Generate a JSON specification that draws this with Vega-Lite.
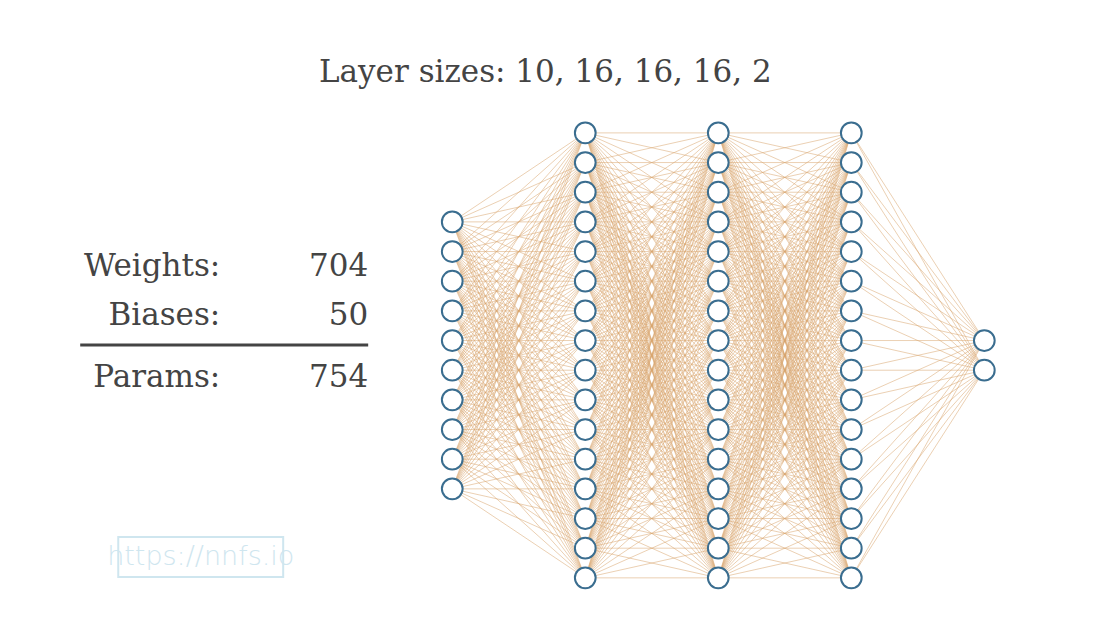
{
"$schema":"https://vega.github.io/schema/vega-lite/v6.json",
"width":1116,"height":636,
"autosize":{"type":"fit","contains":"padding"},
"padding":0,
"background":"white",
"config":{"view":{"stroke":null}},
"datasets":{
"edges":[
{"x":0,"y":-4.5,"xt":1,"t":[-7.5,-6.5,-5.5,-4.5,-3.5,-2.5,-1.5,-0.5,0.5,1.5,2.5,3.5,4.5,5.5,6.5,7.5]},
{"x":0,"y":-3.5,"xt":1,"t":[-7.5,-6.5,-5.5,-4.5,-3.5,-2.5,-1.5,-0.5,0.5,1.5,2.5,3.5,4.5,5.5,6.5,7.5]},
{"x":0,"y":-2.5,"xt":1,"t":[-7.5,-6.5,-5.5,-4.5,-3.5,-2.5,-1.5,-0.5,0.5,1.5,2.5,3.5,4.5,5.5,6.5,7.5]},
{"x":0,"y":-1.5,"xt":1,"t":[-7.5,-6.5,-5.5,-4.5,-3.5,-2.5,-1.5,-0.5,0.5,1.5,2.5,3.5,4.5,5.5,6.5,7.5]},
{"x":0,"y":-0.5,"xt":1,"t":[-7.5,-6.5,-5.5,-4.5,-3.5,-2.5,-1.5,-0.5,0.5,1.5,2.5,3.5,4.5,5.5,6.5,7.5]},
{"x":0,"y":0.5,"xt":1,"t":[-7.5,-6.5,-5.5,-4.5,-3.5,-2.5,-1.5,-0.5,0.5,1.5,2.5,3.5,4.5,5.5,6.5,7.5]},
{"x":0,"y":1.5,"xt":1,"t":[-7.5,-6.5,-5.5,-4.5,-3.5,-2.5,-1.5,-0.5,0.5,1.5,2.5,3.5,4.5,5.5,6.5,7.5]},
{"x":0,"y":2.5,"xt":1,"t":[-7.5,-6.5,-5.5,-4.5,-3.5,-2.5,-1.5,-0.5,0.5,1.5,2.5,3.5,4.5,5.5,6.5,7.5]},
{"x":0,"y":3.5,"xt":1,"t":[-7.5,-6.5,-5.5,-4.5,-3.5,-2.5,-1.5,-0.5,0.5,1.5,2.5,3.5,4.5,5.5,6.5,7.5]},
{"x":0,"y":4.5,"xt":1,"t":[-7.5,-6.5,-5.5,-4.5,-3.5,-2.5,-1.5,-0.5,0.5,1.5,2.5,3.5,4.5,5.5,6.5,7.5]},
{"x":1,"y":-7.5,"xt":2,"t":[-7.5,-6.5,-5.5,-4.5,-3.5,-2.5,-1.5,-0.5,0.5,1.5,2.5,3.5,4.5,5.5,6.5,7.5]},
{"x":1,"y":-6.5,"xt":2,"t":[-7.5,-6.5,-5.5,-4.5,-3.5,-2.5,-1.5,-0.5,0.5,1.5,2.5,3.5,4.5,5.5,6.5,7.5]},
{"x":1,"y":-5.5,"xt":2,"t":[-7.5,-6.5,-5.5,-4.5,-3.5,-2.5,-1.5,-0.5,0.5,1.5,2.5,3.5,4.5,5.5,6.5,7.5]},
{"x":1,"y":-4.5,"xt":2,"t":[-7.5,-6.5,-5.5,-4.5,-3.5,-2.5,-1.5,-0.5,0.5,1.5,2.5,3.5,4.5,5.5,6.5,7.5]},
{"x":1,"y":-3.5,"xt":2,"t":[-7.5,-6.5,-5.5,-4.5,-3.5,-2.5,-1.5,-0.5,0.5,1.5,2.5,3.5,4.5,5.5,6.5,7.5]},
{"x":1,"y":-2.5,"xt":2,"t":[-7.5,-6.5,-5.5,-4.5,-3.5,-2.5,-1.5,-0.5,0.5,1.5,2.5,3.5,4.5,5.5,6.5,7.5]},
{"x":1,"y":-1.5,"xt":2,"t":[-7.5,-6.5,-5.5,-4.5,-3.5,-2.5,-1.5,-0.5,0.5,1.5,2.5,3.5,4.5,5.5,6.5,7.5]},
{"x":1,"y":-0.5,"xt":2,"t":[-7.5,-6.5,-5.5,-4.5,-3.5,-2.5,-1.5,-0.5,0.5,1.5,2.5,3.5,4.5,5.5,6.5,7.5]},
{"x":1,"y":0.5,"xt":2,"t":[-7.5,-6.5,-5.5,-4.5,-3.5,-2.5,-1.5,-0.5,0.5,1.5,2.5,3.5,4.5,5.5,6.5,7.5]},
{"x":1,"y":1.5,"xt":2,"t":[-7.5,-6.5,-5.5,-4.5,-3.5,-2.5,-1.5,-0.5,0.5,1.5,2.5,3.5,4.5,5.5,6.5,7.5]},
{"x":1,"y":2.5,"xt":2,"t":[-7.5,-6.5,-5.5,-4.5,-3.5,-2.5,-1.5,-0.5,0.5,1.5,2.5,3.5,4.5,5.5,6.5,7.5]},
{"x":1,"y":3.5,"xt":2,"t":[-7.5,-6.5,-5.5,-4.5,-3.5,-2.5,-1.5,-0.5,0.5,1.5,2.5,3.5,4.5,5.5,6.5,7.5]},
{"x":1,"y":4.5,"xt":2,"t":[-7.5,-6.5,-5.5,-4.5,-3.5,-2.5,-1.5,-0.5,0.5,1.5,2.5,3.5,4.5,5.5,6.5,7.5]},
{"x":1,"y":5.5,"xt":2,"t":[-7.5,-6.5,-5.5,-4.5,-3.5,-2.5,-1.5,-0.5,0.5,1.5,2.5,3.5,4.5,5.5,6.5,7.5]},
{"x":1,"y":6.5,"xt":2,"t":[-7.5,-6.5,-5.5,-4.5,-3.5,-2.5,-1.5,-0.5,0.5,1.5,2.5,3.5,4.5,5.5,6.5,7.5]},
{"x":1,"y":7.5,"xt":2,"t":[-7.5,-6.5,-5.5,-4.5,-3.5,-2.5,-1.5,-0.5,0.5,1.5,2.5,3.5,4.5,5.5,6.5,7.5]},
{"x":2,"y":-7.5,"xt":3,"t":[-7.5,-6.5,-5.5,-4.5,-3.5,-2.5,-1.5,-0.5,0.5,1.5,2.5,3.5,4.5,5.5,6.5,7.5]},
{"x":2,"y":-6.5,"xt":3,"t":[-7.5,-6.5,-5.5,-4.5,-3.5,-2.5,-1.5,-0.5,0.5,1.5,2.5,3.5,4.5,5.5,6.5,7.5]},
{"x":2,"y":-5.5,"xt":3,"t":[-7.5,-6.5,-5.5,-4.5,-3.5,-2.5,-1.5,-0.5,0.5,1.5,2.5,3.5,4.5,5.5,6.5,7.5]},
{"x":2,"y":-4.5,"xt":3,"t":[-7.5,-6.5,-5.5,-4.5,-3.5,-2.5,-1.5,-0.5,0.5,1.5,2.5,3.5,4.5,5.5,6.5,7.5]},
{"x":2,"y":-3.5,"xt":3,"t":[-7.5,-6.5,-5.5,-4.5,-3.5,-2.5,-1.5,-0.5,0.5,1.5,2.5,3.5,4.5,5.5,6.5,7.5]},
{"x":2,"y":-2.5,"xt":3,"t":[-7.5,-6.5,-5.5,-4.5,-3.5,-2.5,-1.5,-0.5,0.5,1.5,2.5,3.5,4.5,5.5,6.5,7.5]},
{"x":2,"y":-1.5,"xt":3,"t":[-7.5,-6.5,-5.5,-4.5,-3.5,-2.5,-1.5,-0.5,0.5,1.5,2.5,3.5,4.5,5.5,6.5,7.5]},
{"x":2,"y":-0.5,"xt":3,"t":[-7.5,-6.5,-5.5,-4.5,-3.5,-2.5,-1.5,-0.5,0.5,1.5,2.5,3.5,4.5,5.5,6.5,7.5]},
{"x":2,"y":0.5,"xt":3,"t":[-7.5,-6.5,-5.5,-4.5,-3.5,-2.5,-1.5,-0.5,0.5,1.5,2.5,3.5,4.5,5.5,6.5,7.5]},
{"x":2,"y":1.5,"xt":3,"t":[-7.5,-6.5,-5.5,-4.5,-3.5,-2.5,-1.5,-0.5,0.5,1.5,2.5,3.5,4.5,5.5,6.5,7.5]},
{"x":2,"y":2.5,"xt":3,"t":[-7.5,-6.5,-5.5,-4.5,-3.5,-2.5,-1.5,-0.5,0.5,1.5,2.5,3.5,4.5,5.5,6.5,7.5]},
{"x":2,"y":3.5,"xt":3,"t":[-7.5,-6.5,-5.5,-4.5,-3.5,-2.5,-1.5,-0.5,0.5,1.5,2.5,3.5,4.5,5.5,6.5,7.5]},
{"x":2,"y":4.5,"xt":3,"t":[-7.5,-6.5,-5.5,-4.5,-3.5,-2.5,-1.5,-0.5,0.5,1.5,2.5,3.5,4.5,5.5,6.5,7.5]},
{"x":2,"y":5.5,"xt":3,"t":[-7.5,-6.5,-5.5,-4.5,-3.5,-2.5,-1.5,-0.5,0.5,1.5,2.5,3.5,4.5,5.5,6.5,7.5]},
{"x":2,"y":6.5,"xt":3,"t":[-7.5,-6.5,-5.5,-4.5,-3.5,-2.5,-1.5,-0.5,0.5,1.5,2.5,3.5,4.5,5.5,6.5,7.5]},
{"x":2,"y":7.5,"xt":3,"t":[-7.5,-6.5,-5.5,-4.5,-3.5,-2.5,-1.5,-0.5,0.5,1.5,2.5,3.5,4.5,5.5,6.5,7.5]},
{"x":3,"y":-7.5,"xt":4,"t":[-0.5,0.5]},
{"x":3,"y":-6.5,"xt":4,"t":[-0.5,0.5]},
{"x":3,"y":-5.5,"xt":4,"t":[-0.5,0.5]},
{"x":3,"y":-4.5,"xt":4,"t":[-0.5,0.5]},
{"x":3,"y":-3.5,"xt":4,"t":[-0.5,0.5]},
{"x":3,"y":-2.5,"xt":4,"t":[-0.5,0.5]},
{"x":3,"y":-1.5,"xt":4,"t":[-0.5,0.5]},
{"x":3,"y":-0.5,"xt":4,"t":[-0.5,0.5]},
{"x":3,"y":0.5,"xt":4,"t":[-0.5,0.5]},
{"x":3,"y":1.5,"xt":4,"t":[-0.5,0.5]},
{"x":3,"y":2.5,"xt":4,"t":[-0.5,0.5]},
{"x":3,"y":3.5,"xt":4,"t":[-0.5,0.5]},
{"x":3,"y":4.5,"xt":4,"t":[-0.5,0.5]},
{"x":3,"y":5.5,"xt":4,"t":[-0.5,0.5]},
{"x":3,"y":6.5,"xt":4,"t":[-0.5,0.5]},
{"x":3,"y":7.5,"xt":4,"t":[-0.5,0.5]}
],
"nodes":[
{"x":0,"ys":[-4.5,-3.5,-2.5,-1.5,-0.5,0.5,1.5,2.5,3.5,4.5]},
{"x":1,"ys":[-7.5,-6.5,-5.5,-4.5,-3.5,-2.5,-1.5,-0.5,0.5,1.5,2.5,3.5,4.5,5.5,6.5,7.5]},
{"x":2,"ys":[-7.5,-6.5,-5.5,-4.5,-3.5,-2.5,-1.5,-0.5,0.5,1.5,2.5,3.5,4.5,5.5,6.5,7.5]},
{"x":3,"ys":[-7.5,-6.5,-5.5,-4.5,-3.5,-2.5,-1.5,-0.5,0.5,1.5,2.5,3.5,4.5,5.5,6.5,7.5]},
{"x":4,"ys":[-0.5,0.5]}
],
"labels":[
{"x":-1.744,"y":2.98,"text":"Weights:"},
{"x":-0.632,"y":2.98,"text":"704"},
{"x":-1.744,"y":1.33,"text":"Biases:"},
{"x":-0.632,"y":1.33,"text":"50"},
{"x":-1.744,"y":-0.76,"text":"Params:"},
{"x":-0.632,"y":-0.76,"text":"754"}
]
},
"layer":[
{"data":{"name":"edges"},
 "transform":[{"flatten":["t"]}],
 "mark":{"type":"rule","color":"#d9a56e","strokeWidth":0.7,"opacity":0.75},
 "encoding":{
  "x":{"field":"x","type":"quantitative","scale":{"domain":[-3.4,4.99],"nice":false,"zero":false},"axis":null},
  "y":{"field":"y","type":"quantitative","scale":{"domain":[-9.46,11.98],"nice":false,"zero":false},"axis":null},
  "x2":{"field":"xt"},
  "y2":{"field":"t"}
 }},
{"data":{"name":"nodes"},
 "transform":[{"flatten":["ys"]}],
 "mark":{"type":"point","shape":"circle","filled":true,"fill":"white","stroke":"#3a6d8f","strokeWidth":2,"size":430,"opacity":1},
 "encoding":{
  "x":{"field":"x","type":"quantitative"},
  "y":{"field":"ys","type":"quantitative"}
 }},
{"data":{"values":[{"x":0.70,"y":9.52,"text":"Layer sizes: 10, 16, 16, 16, 2"}]},
 "mark":{"type":"text","font":"DejaVu Serif","fontSize":31,"color":"#444444","baseline":"middle","align":"center"},
 "encoding":{"x":{"field":"x","type":"quantitative"},"y":{"field":"y","type":"quantitative"},"text":{"field":"text"}}},
{"data":{"name":"labels"},
 "mark":{"type":"text","font":"DejaVu Serif","fontSize":31,"color":"#444444","baseline":"middle","align":"right"},
 "encoding":{"x":{"field":"x","type":"quantitative"},"y":{"field":"y","type":"quantitative"},"text":{"field":"text"}}},
{"data":{"values":[{"x":-2.797,"x2":-0.632,"y":0.354}]},
 "mark":{"type":"rule","color":"#444444","strokeWidth":3},
 "encoding":{"x":{"field":"x","type":"quantitative"},"x2":{"field":"x2"},"y":{"field":"y","type":"quantitative"}}},
{"data":{"values":[{"x":-2.511,"x2":-1.271,"y":-6.12,"y2":-7.47}]},
 "mark":{"type":"rect","fill":null,"fillOpacity":0,"stroke":"#cfe6ef","strokeWidth":2},
 "encoding":{"x":{"field":"x","type":"quantitative"},"x2":{"field":"x2"},"y":{"field":"y","type":"quantitative"},"y2":{"field":"y2"}}},
{"data":{"values":[{"x":-1.891,"y":-6.79,"text":"https://nnfs.io"}]},
 "mark":{"type":"text","font":"DejaVu Sans","fontWeight":300,"fontSize":27,"color":"#cfe6ef","baseline":"middle","align":"center"},
 "encoding":{"x":{"field":"x","type":"quantitative"},"y":{"field":"y","type":"quantitative"},"text":{"field":"text"}}}
]
}
